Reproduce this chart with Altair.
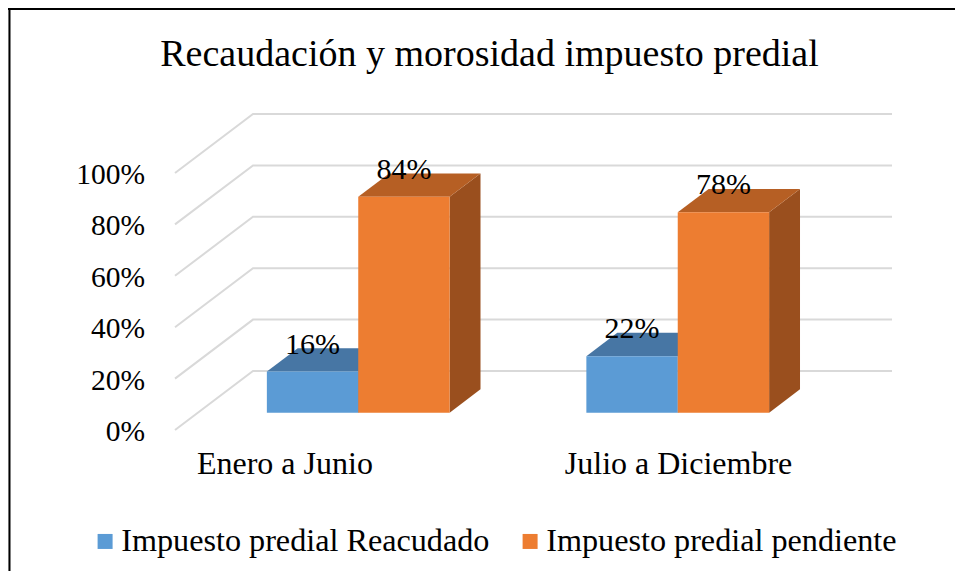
import altair as alt
import pandas as pd

# ---------------- data ----------------
categories = ["Enero a Junio", "Julio a Diciembre"]
series_names = ["Impuesto predial Reacudado", "Impuesto predial pendiente"]
reacudado = [16, 22]
pendiente = [84, 78]
y_ticks = [0, 20, 40, 60, 80, 100]
title_text = "Recaudación y morosidad impuesto predial"

# ---------------- styles ----------------
FONT = "Liberation Serif"
front_colors = ["#5B9BD5", "#ED7D31"]
top_colors = ["#4776A4", "#B65F24"]
side_colors = ["#3F6A93", "#9A4F1E"]
GRID_COLOR = "#D9D9D9"

# ---------------- layout ----------------
W, H = 947, 563            # whole drawing area (view)
PXX, X0 = 319.5, 167       # px per category unit, px of front-plane origin
PXY, Y0 = 2.57, 422        # px per percent, px of front-plane 0%
DEPTH_X = 78 / PXX         # 3-D depth offset in x units
DEPTH_Y = 59 / PXY         # 3-D depth offset in y units
F1, F2 = 0.293, 0.689      # bar front / back position within depth
GAP = 0.216
BAR_W = 0.286
LABEL_SPREAD, LABEL_SHIFT = 1.232, -0.272

xs = alt.Scale(domain=[-X0 / PXX, (W - X0) / PXX], nice=False, zero=False)
ys = alt.Scale(domain=[-(H - Y0) / PXY, Y0 / PXY], nice=False, zero=False)

values = [reacudado, pendiente]

front_rows, top_rows, side_rows, label_rows = [], [], [], []
for ci, cat in enumerate(categories):
    for si, sname in enumerate(series_names):
        v = values[si][ci]
        xl = ci + GAP + si * BAR_W
        xr = xl + BAR_W
        fdx, fdy = F1 * DEPTH_X, F1 * DEPTH_Y
        bdx, bdy = F2 * DEPTH_X, F2 * DEPTH_Y
        front_rows.append(dict(series=sname, x=xl + fdx, x2=xr + fdx, y=fdy, y2=v + fdy))
        pid = f"top{ci}{si}"
        for (px, lo, hi) in [
            (xl + fdx, v + fdy, v + fdy),
            (xl + bdx, v + fdy, v + bdy),
            (xr + fdx, v + fdy, v + bdy),
            (xr + bdx, v + bdy, v + bdy),
        ]:
            top_rows.append(dict(poly=pid, x=px, y=hi, y2=lo, fill=top_colors[si]))
        sid = f"side{ci}{si}"
        for (px, lo, hi) in [(xr + fdx, fdy, v + fdy), (xr + bdx, bdy, v + bdy)]:
            side_rows.append(dict(poly=sid, x=px, y=hi, y2=lo, fill=side_colors[si]))
        label_rows.append(dict(x=(xl + xr) / 2 + fdx, y=v + fdy, text=f"{v}%"))

grid_rows = []
for t in y_ticks:
    for k, (gx, gy) in enumerate([(0, t), (DEPTH_X, t + DEPTH_Y),
                                  (len(categories) + DEPTH_X, t + DEPTH_Y)]):
        grid_rows.append(dict(tick=t, k=k, x=gx, y=gy))

tick_df = pd.DataFrame({"y": y_ticks, "x": [0] * len(y_ticks),
                        "text": [f"{t}%" for t in y_ticks]})

cat_rows = [dict(cat=c, x=LABEL_SPREAD * (i + 0.5) + LABEL_SHIFT, y=0)
            for i, c in enumerate(categories)]

front_df = pd.DataFrame(front_rows)
top_df = pd.DataFrame(top_rows)
side_df = pd.DataFrame(side_rows)
label_df = pd.DataFrame(label_rows)
grid_df = pd.DataFrame(grid_rows)
cat_df = pd.DataFrame(cat_rows)

X = lambda f="x": alt.X(f"{f}:Q", scale=xs, axis=None)
Y = lambda f="y": alt.Y(f"{f}:Q", scale=ys, axis=None)

border_left = alt.Chart(pd.DataFrame({"a": [0]})).mark_rule(
    color="black", strokeWidth=2).encode(
    x=alt.value(1.5), y=alt.value(0), y2=alt.value(H))
border_top = alt.Chart(pd.DataFrame({"a": [0]})).mark_rule(
    color="black", strokeWidth=2).encode(
    y=alt.value(1), x=alt.value(0), x2=alt.value(W))

grid = alt.Chart(grid_df).mark_line(color=GRID_COLOR, strokeWidth=2).encode(
    x=X(), y=Y(), detail="tick:N", order="k:Q",
)

tick_labels = alt.Chart(tick_df).mark_text(
    font=FONT, fontSize=29.5, color="black", align="right", baseline="middle",
    dx=-30, dy=2).encode(x=X(), y=Y(), text="text:N")

sides = alt.Chart(side_df).mark_area(interpolate="linear").encode(
    x=X(), y=Y(), y2="y2:Q", detail="poly:N",
    fill=alt.Fill("fill:N", scale=None),
)
tops = alt.Chart(top_df).mark_area(interpolate="linear").encode(
    x=X(), y=Y(), y2="y2:Q", detail="poly:N",
    fill=alt.Fill("fill:N", scale=None),
)
fronts = alt.Chart(front_df).mark_rect().encode(
    x=X(), x2="x2:Q", y=Y(), y2="y2:Q",
    color=alt.Color("series:N", scale=alt.Scale(domain=series_names, range=front_colors),
                    legend=alt.Legend(orient="none", legendX=81, legendY=517,
                                      direction="horizontal", title=None,
                                      symbolType="square", symbolSize=225,
                                      symbolStrokeWidth=0, labelFont=FONT,
                                      labelFontSize=32.2, labelColor="black",
                                      labelOffset=0, columnPadding=24, padding=0,
                                      labelLimit=0)),
)
labels = alt.Chart(label_df).mark_text(
    font=FONT, fontSize=30, color="black", baseline="alphabetic", dy=-18).encode(
    x=X(), y=Y(), text="text:N")
cat_labels = alt.Chart(cat_df).mark_text(
    font=FONT, fontSize=32, color="black", baseline="middle", dy=34).encode(
    x=X(), y=Y(), text="cat:N")

chart = alt.layer(border_left, border_top, grid, tick_labels, sides, tops, fronts,
                  labels, cat_labels).properties(
    width=W, height=H, autosize="none", padding=0,
    title=alt.TitleParams(title_text, font=FONT, fontSize=38, fontWeight="normal",
                          color="black", anchor="middle", dx=8, dy=101,
                          baseline="alphabetic"),
).configure_view(stroke=None).configure(background="white")

chart.save("out.html", embed_options={"renderer": "svg", "actions": False})
